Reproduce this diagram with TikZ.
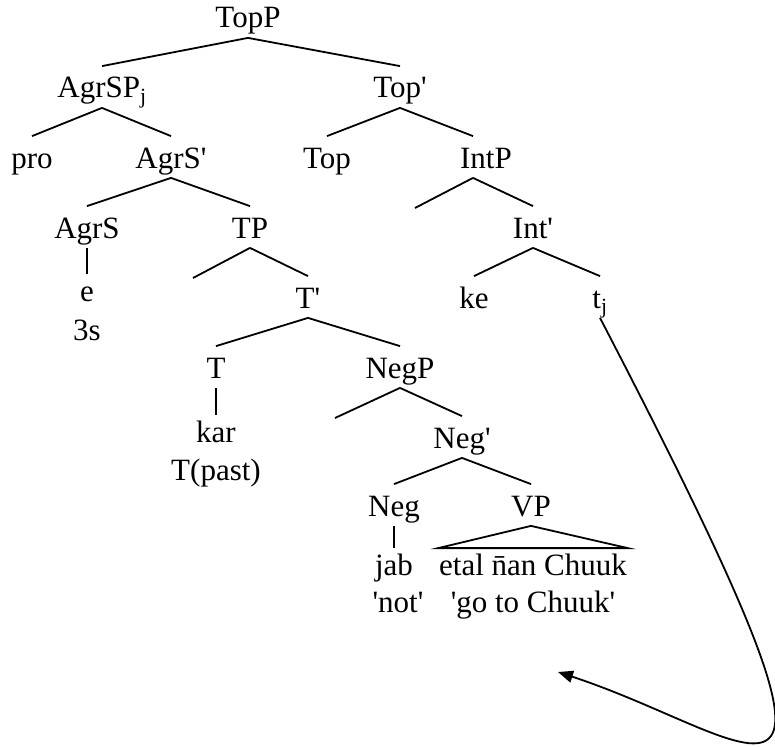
\documentclass[tikz,border=0pt]{standalone}
\usepackage{fontspec}
\newfontfamily\treefont{Liberation Serif}
\usetikzlibrary{arrows.meta}

\begin{document}
\begin{tikzpicture}[x=1pt, y=-1pt, line width=1.8pt,
		cat/.style={anchor=base, inner sep=0pt, text height=31pt, text depth=9pt, font=\treefont\fontsize{31}{37}\selectfont},
		word/.style={cat, text height=26pt}]
		\useasboundingbox (0,0) rectangle (775,746);

		% Topic layer
		\node[cat] (topp) at (248,28) {TopP};
		\node[cat] (agrsp) at (102,98) {AgrSP\textsubscript{j}};
		\node[cat] (topbar) at (400,98) {Top'};
		\node[cat] (pro) at (32,168) {pro};
		\node[cat] (agrsbar) at (171,168) {AgrS'};
		\node[cat] (top) at (327,168) {Top};
		\node[cat] (intp) at (486,168) {IntP};

		% Subject agreement and tense
		\node[cat] (agrs) at (87,238) {AgrS};
		\node[word] (agrs-e) at (87,301) {e};
		\node[word] (agrs-3s) at (87,340) {3s};
		\node[cat] (tp) at (250,238) {TP};
		\coordinate (tp-spec) at (193,278);
		\node[cat] (tbar) at (308,308) {T'};
		\node[cat] (t) at (216,378) {T};
		\node[word] (kar) at (216,442) {kar};
		\node[word] (tpast) at (216,480) {T(past)};

		% Interrogative
		\coordinate (intp-spec) at (415,208);
		\node[cat] (intbar) at (533,238) {Int'};
		\node[cat] (ke) at (474,308) {ke};
		\node[cat] (tj) at (600,308) {t\textsubscript{j}};

		% Negation and VP
		\node[cat] (negp) at (400,378) {NegP};
		\coordinate (negp-spec) at (335,418);
		\node[cat] (negbar) at (462,448) {Neg'};
		\node[cat] (neg) at (394,516) {Neg};
		\node[word] (jab) at (394,575) {jab};
		\node[word] (jab-gloss) at (398,612) {'not'};
		\node[cat] (vp) at (531,516) {VP};
		\node[word] (etal) at (533,575) {etal \=nan Chuuk};
		\node[word] (etal-gloss) at (533,612) {'go to Chuuk'};
		\coordinate (landing) at (558,672);

		% Branches
		\draw (topp.south) -- (agrsp.north);
		\draw (topp.south) -- (topbar.north);
		\draw (agrsp.south) -- (pro.north);
		\draw (agrsp.south) -- (agrsbar.north);
		\draw (topbar.south) -- (top.north);
		\draw (topbar.south) -- ([xshift=-13pt]intp.north);
		\draw (agrsbar.south) -- (agrs.north);
		\draw (agrsbar.south) -- (tp.north);
		\draw (agrs.south) -- (agrs-e.north);
		\draw ([xshift=-13pt]intp.south) -- (intp-spec);
		\draw ([xshift=-13pt]intp.south) -- (intbar.north);
		\draw (tp.south) -- (tp-spec);
		\draw (tp.south) -- (tbar.north);
		\draw (intbar.south) -- (ke.north);
		\draw (intbar.south) -- (tj.north);
		\draw (tbar.south) -- (t.north);
		\draw (tbar.south) -- (negp.north);
		\draw (t.south) -- (kar.north);
		\draw (negp.south) -- (negp-spec);
		\draw (negp.south) -- (negbar.north);
		\draw (negbar.south) -- (neg.north);
		\draw (negbar.south) -- (vp.north);
		\draw (neg.south) -- (jab.north);
		\draw (vp.south) -- (etal.north west) -- (etal.north east) -- cycle;

		% Movement arrow
		\draw[-{Triangle[length=15pt,width=12pt]}] (tj.south) .. controls (899,893) and (765,740) .. (landing);
	\end{tikzpicture}
\end{document}
